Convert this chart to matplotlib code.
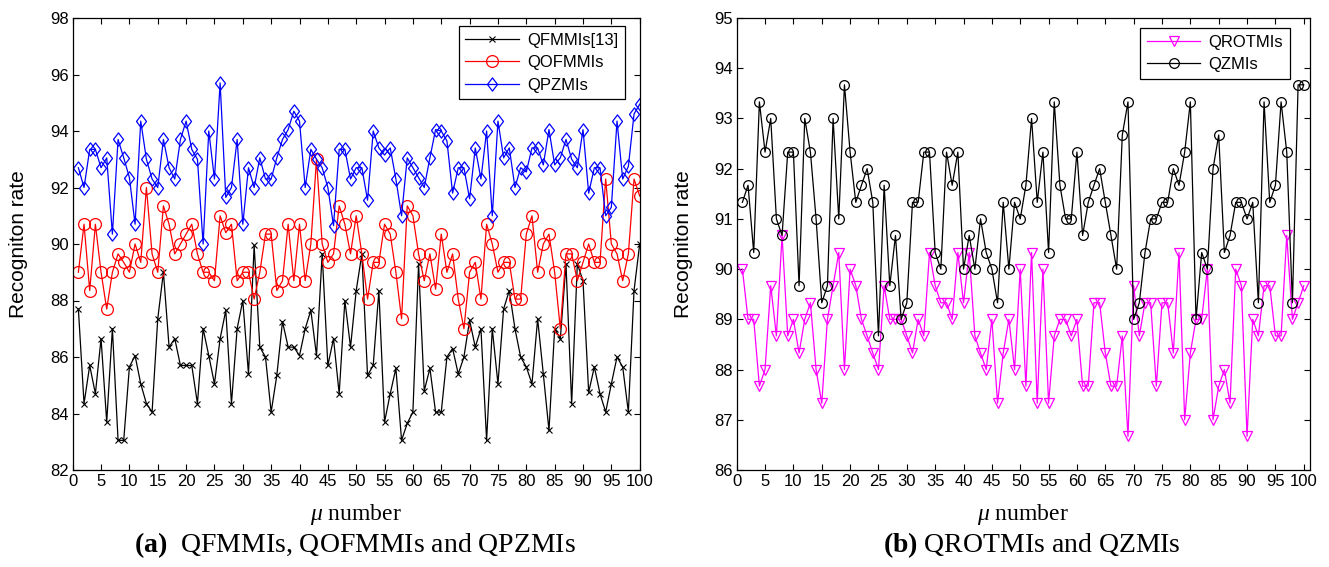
import matplotlib
matplotlib.use("Agg")
import matplotlib.pyplot as plt
import numpy as np

plt.rcParams["font.family"] = ["Liberation Sans", "DejaVu Sans"]
plt.rcParams["mathtext.fontset"] = "custom"
plt.rcParams["mathtext.rm"] = "Liberation Serif"
plt.rcParams["mathtext.it"] = "Liberation Serif:italic"
plt.rcParams["mathtext.bf"] = "Liberation Serif:bold"

mu = list(range(1, 101))

qfmmis = [87.7, 84.35, 85.7, 84.7, 86.65, 83.7, 87.0, 83.05, 83.05, 85.65,
          86.05, 85.05, 84.35, 84.05, 87.35, 89.0, 86.35, 86.65, 85.7, 85.7,
          85.7, 84.35, 87.0, 86.05, 85.05, 86.65, 87.65, 84.35, 87.0, 88.0,
          85.4, 89.95, 86.35, 86.0, 84.05, 85.35, 87.25, 86.35, 86.35, 86.05,
          87.0, 87.65, 86.05, 89.65, 85.7, 86.65, 84.7, 88.0, 86.35, 88.35,
          89.65, 85.35, 85.7, 88.35, 83.7, 84.7, 85.6, 83.05, 83.65, 84.05,
          89.3, 84.8, 85.6, 84.05, 84.05, 86.0, 86.3, 85.4, 86.0, 87.3,
          86.35, 87.0, 83.05, 87.0, 85.05, 87.7, 88.35, 87.0, 86.0, 85.65,
          85.05, 87.35, 85.4, 83.4, 87.0, 86.65, 89.3, 84.35, 89.3, 88.7,
          84.75, 85.65, 84.7, 84.05, 85.05, 86.0, 85.65, 84.05, 88.35, 90.0]

qofmmis = [89.0, 90.7, 88.35, 90.7, 89.0, 87.7, 89.0, 89.65, 89.35, 89.0,
           90.0, 89.35, 92.0, 89.65, 89.0, 91.35, 90.7, 89.65, 90.0, 90.35,
           90.7, 89.65, 89.0, 89.0, 88.7, 91.0, 90.4, 90.7, 88.7, 89.0,
           89.0, 88.05, 89.0, 90.35, 90.35, 88.35, 88.7, 90.7, 88.7, 90.7,
           88.7, 90.0, 93.0, 90.0, 89.35, 89.65, 91.35, 90.7, 89.65, 91.0,
           89.65, 88.05, 89.35, 89.35, 90.7, 90.35, 89.0, 87.35, 91.35, 91.0,
           89.65, 88.7, 89.65, 88.4, 90.35, 89.0, 89.65, 88.05, 87.0, 89.0,
           89.35, 88.05, 90.7, 90.0, 89.0, 89.35, 89.35, 88.05, 88.05, 90.35,
           91.0, 89.0, 90.0, 90.35, 89.0, 87.0, 89.65, 89.65, 88.7, 89.35,
           90.0, 89.35, 89.35, 92.3, 90.0, 89.65, 88.7, 89.65, 92.3, 91.7]

qpzmis = [92.7, 92.0, 93.35, 93.35, 92.7, 93.05, 90.35, 93.7, 93.05, 92.35,
          90.7, 94.35, 93.0, 92.3, 92.0, 93.7, 92.7, 92.3, 93.7, 94.35,
          93.35, 93.0, 90.0, 94.0, 92.3, 95.7, 91.65, 92.0, 93.7, 90.7,
          92.7, 92.0, 93.05, 92.3, 92.3, 93.05, 93.7, 94.05, 94.7, 94.35,
          92.0, 93.35, 93.0, 92.7, 92.0, 90.65, 93.35, 93.35, 92.3, 92.7,
          92.7, 91.55, 94.0, 93.4, 93.15, 93.4, 92.3, 91.0, 93.05, 92.7,
          92.35, 92.0, 93.05, 94.05, 94.0, 93.65, 91.8, 92.7, 92.7, 91.6,
          93.4, 92.3, 94.0, 91.0, 94.35, 93.05, 93.4, 92.0, 92.7, 92.55,
          93.4, 93.4, 92.8, 94.05, 92.8, 93.05, 93.7, 93.0, 92.7, 94.05,
          91.8, 92.7, 92.7, 91.0, 91.3, 94.35, 92.3, 92.75, 94.6, 94.95]

qrotmis = [90.0, 89.0, 89.0, 87.67, 88.0, 89.67, 88.67, 90.67, 88.67, 89.0,
           88.33, 89.0, 89.33, 88.0, 87.33, 89.0, 89.67, 90.33, 88.0, 90.0,
           89.67, 89.0, 88.67, 88.33, 88.0, 89.67, 89.0, 89.0, 89.0, 88.67,
           88.33, 89.0, 88.67, 90.33, 89.67, 89.33, 89.33, 89.0, 90.33, 89.33,
           90.33, 88.67, 88.33, 88.0, 89.0, 87.33, 88.33, 89.0, 88.0, 90.0,
           87.67, 90.33, 87.33, 90.0, 87.33, 88.67, 89.0, 89.0, 88.67, 89.0,
           87.67, 87.67, 89.33, 89.33, 88.33, 87.67, 87.67, 88.67, 86.67, 89.67,
           88.67, 89.33, 89.33, 87.67, 89.33, 89.33, 88.33, 90.33, 87.0, 88.33,
           89.0, 89.0, 90.0, 87.0, 87.67, 88.0, 87.33, 90.0, 89.67, 86.67,
           89.0, 88.67, 89.67, 89.67, 88.67, 88.67, 90.67, 89.0, 89.33, 89.67]

qzmis = [91.33, 91.67, 90.33, 93.33, 92.33, 93.0, 91.0, 90.67, 92.33, 92.33,
         89.67, 93.0, 92.33, 91.0, 89.33, 89.67, 93.0, 91.0, 93.67, 92.33,
         91.33, 91.67, 92.0, 91.33, 88.67, 91.67, 89.67, 90.67, 89.0, 89.33,
         91.33, 91.33, 92.33, 92.33, 90.33, 90.0, 92.33, 91.67, 92.33, 90.0,
         90.67, 90.0, 91.0, 90.33, 90.0, 89.33, 91.33, 90.0, 91.33, 91.0,
         91.67, 93.0, 91.33, 92.33, 90.33, 93.33, 91.67, 91.0, 91.0, 92.33,
         90.67, 91.33, 91.67, 92.0, 91.33, 90.67, 90.0, 92.67, 93.33, 89.0,
         89.33, 90.33, 91.0, 91.0, 91.33, 91.33, 92.0, 91.67, 92.33, 93.33,
         89.0, 90.33, 90.0, 92.0, 92.67, 90.33, 90.67, 91.33, 91.33, 91.0,
         91.33, 89.33, 93.33, 91.33, 91.67, 93.33, 92.33, 89.33, 93.67, 93.67]

left_yticks = list(range(82, 99, 2))
right_yticks = list(range(86, 96, 1))
xticks = list(range(0, 101, 5))

W, H = 1329, 567
fig = plt.figure(figsize=(W / 100, H / 100), dpi=100)
ax1 = fig.add_axes([72.7 / W, 97 / H, 567 / W, 452 / H])
ax2 = fig.add_axes([736.7 / W, 97 / H, 573.3 / W, 452 / H])

# square-ish diamond marker
diamond = [(-0.38, 0), (0, 0.5), (0.38, 0), (0, -0.5), (-0.38, 0)]

lw = 0.9
ax1.plot(mu, qfmmis, color="black", lw=lw, marker="x", ms=4.5, mew=0.8,
         label="QFMMIs[13]")
ax1.plot(mu, qofmmis, color="red", lw=lw, marker="o", ms=8.5, mew=0.9,
         mfc="none", label="QOFMMIs")
ax1.plot(mu, qpzmis, color="blue", lw=lw, marker=diamond, ms=9.5, mew=0.9,
         mfc="none", label="QPZMIs")

ax2.plot(mu, qrotmis, color="#ff00ff", lw=lw, marker="v", ms=7.5, mew=0.9,
         mfc="none", label="QROTMIs")
ax2.plot(mu, qzmis, color="black", lw=lw, marker="o", ms=7.0, mew=0.9,
         mfc="none", label="QZMIs")

ax1.set_xlim(0, 100)
ax1.set_ylim(82, 98)
ax1.set_yticks(left_yticks)
ax2.set_xlim(0, 101.1)
ax2.set_ylim(86, 95)
ax2.set_yticks(right_yticks)

for ax in (ax1, ax2):
    ax.set_xticks(xticks)
    ax.tick_params(direction="in", top=True, right=True, length=4,
                   width=0.8, labelsize=12, pad=3)
    for sp in ax.spines.values():
        sp.set_linewidth(0.9)
    ax.set_ylabel("Recogniton rate", fontsize=15)
    ax.set_xlabel(r"$\mu$ number", fontsize=17, family="Liberation Serif")
    ax.xaxis.set_label_coords(0.5, -0.07)

ax1.yaxis.set_label_coords(-0.079, 0.5)
ax2.yaxis.set_label_coords(-0.076, 0.5)

leg_kw = dict(frameon=True, fancybox=False, edgecolor="black", framealpha=1,
              fontsize=12, handlelength=3.2, handletextpad=0.5,
              borderaxespad=0, labelspacing=0.45, borderpad=0.4)
l1 = ax1.legend(loc="upper right", bbox_to_anchor=(0.974, 0.982), **leg_kw)
l2 = ax2.legend(loc="upper right", bbox_to_anchor=(0.965, 0.978), **leg_kw)
for l in (l1, l2):
    l.get_frame().set_linewidth(0.9)

fig.text(355 / W, 1 - 545 / H, r"$\mathbf{(a)}$  QFMMIs, QOFMMIs and QPZMIs",
         ha="center", va="center", fontsize=20, family="Liberation Serif")
fig.text(1032 / W, 1 - 545 / H, r"$\mathbf{(b)}$ QROTMIs and QZMIs",
         ha="center", va="center", fontsize=20, family="Liberation Serif")

fig.savefig("out.png", dpi=100, facecolor="white")
